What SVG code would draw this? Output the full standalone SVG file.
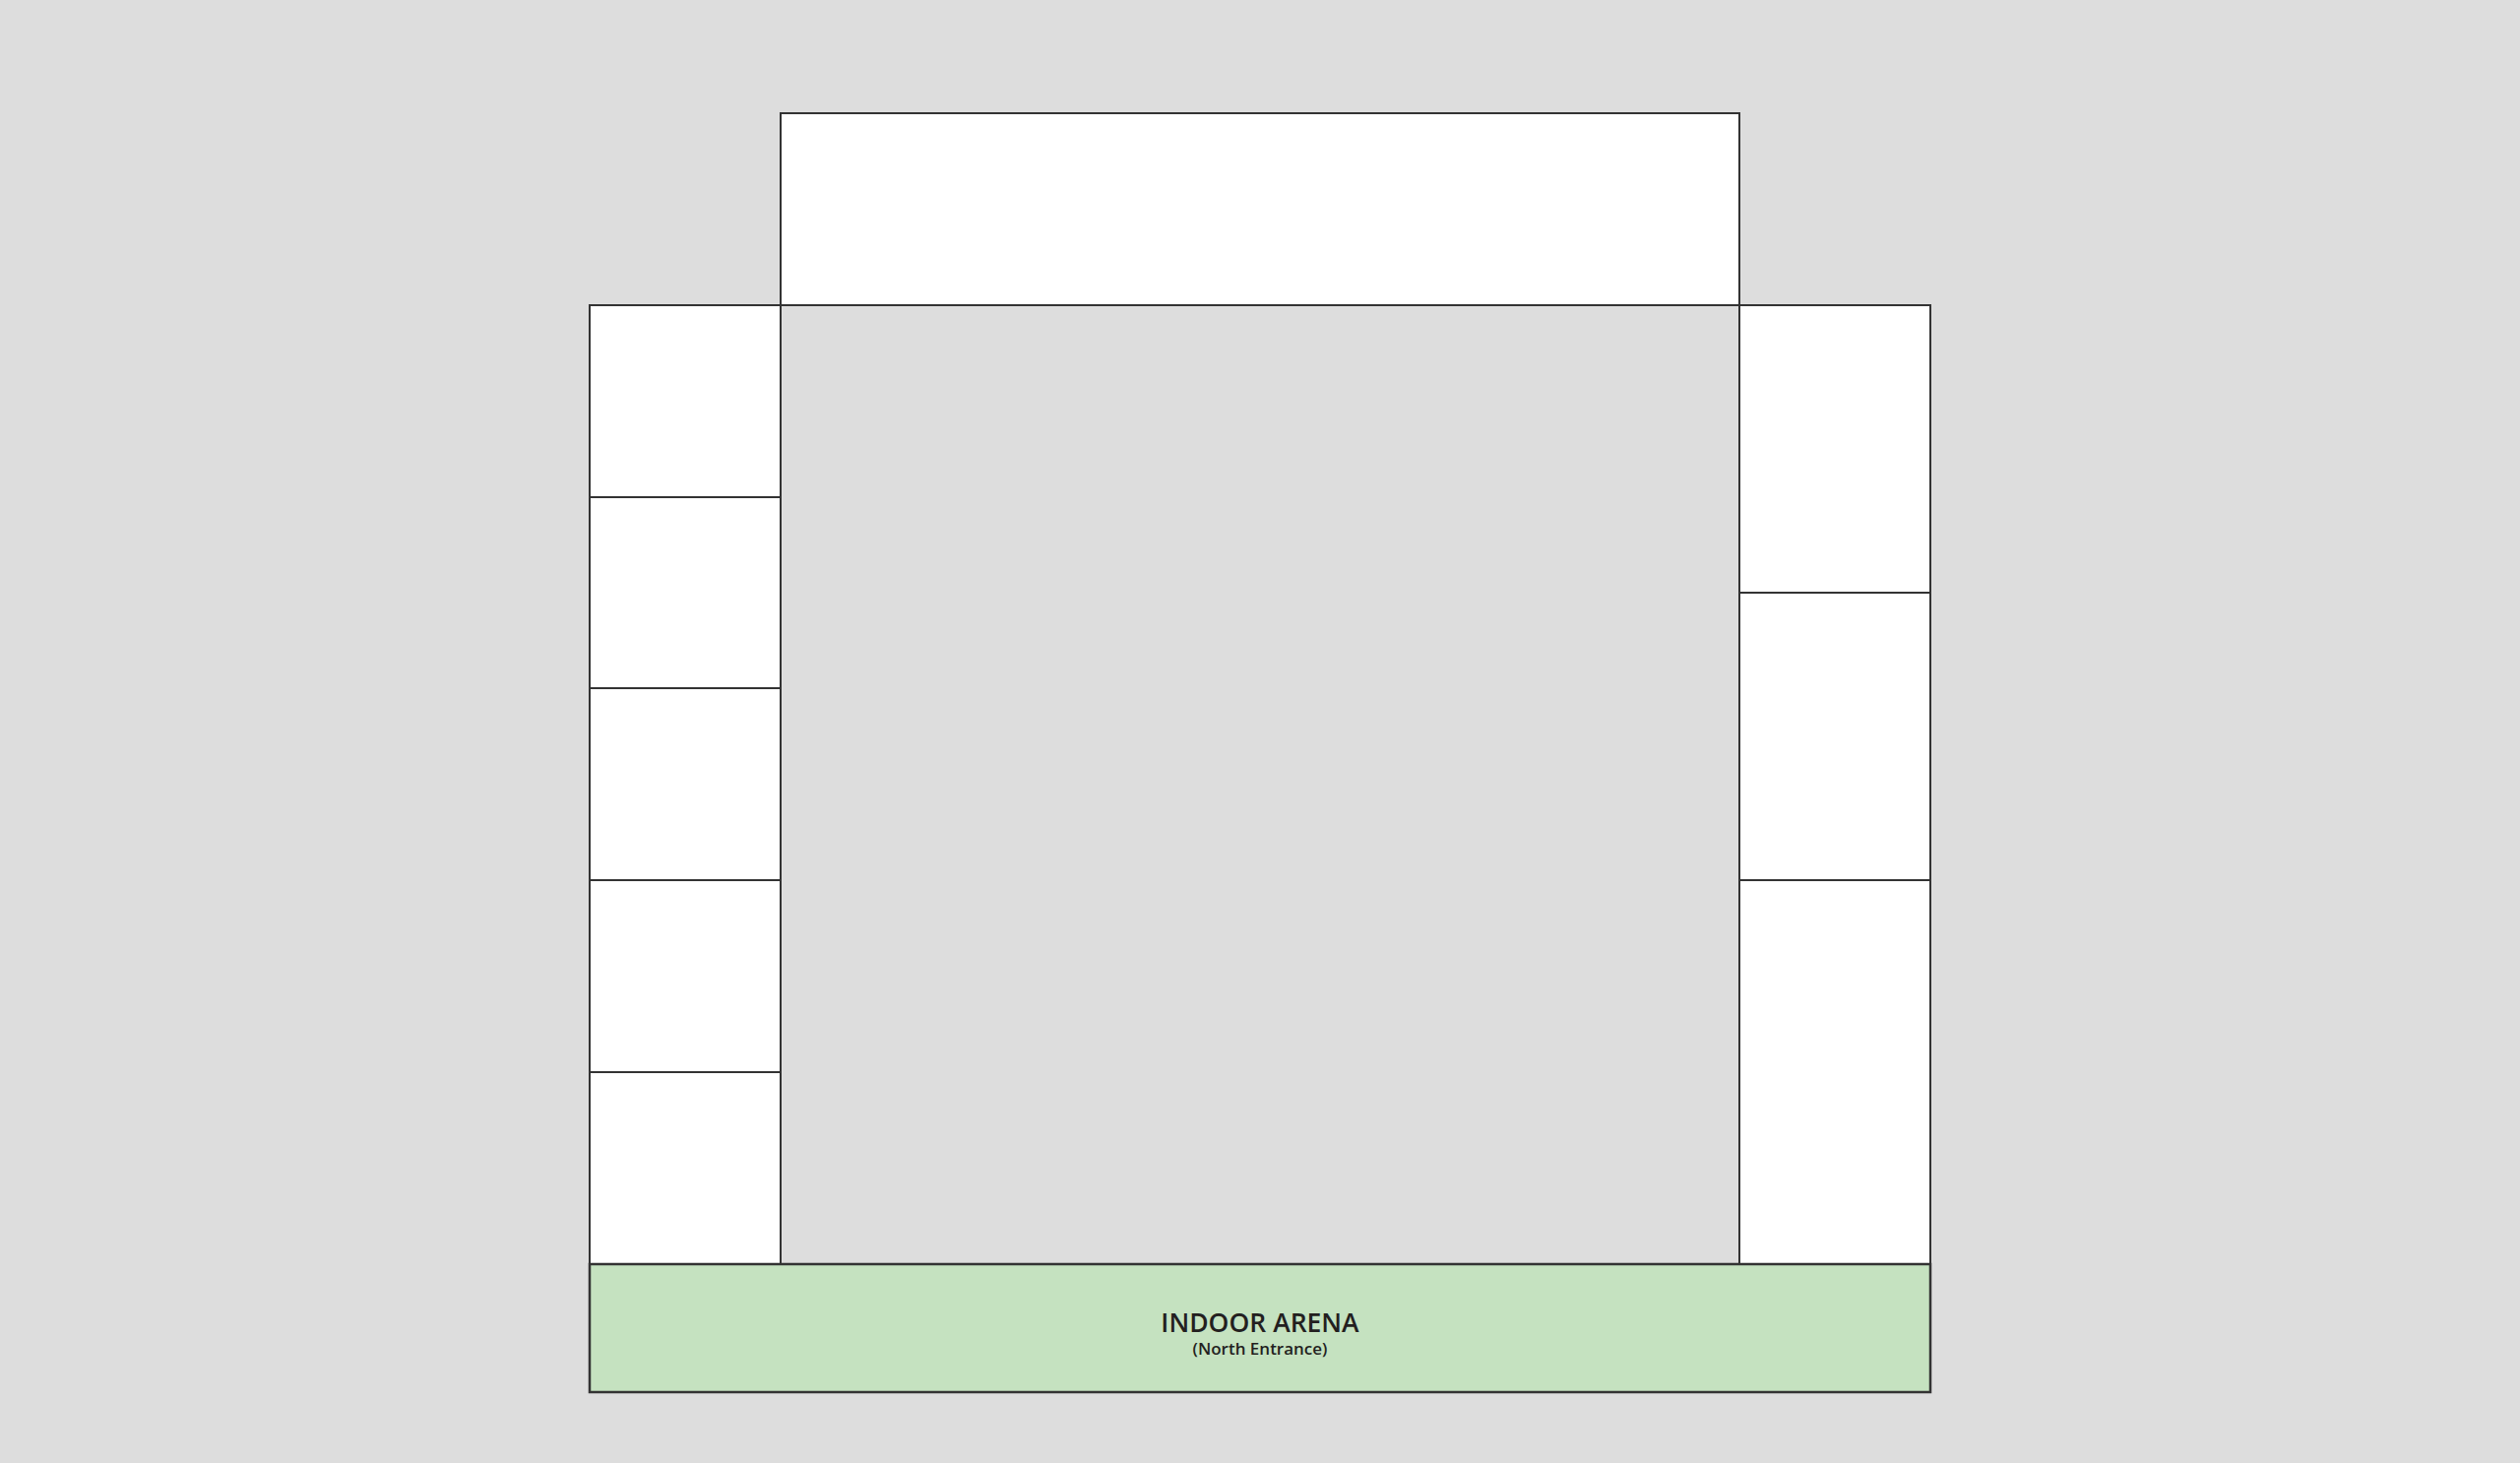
<svg xmlns="http://www.w3.org/2000/svg" width="2560" height="1486" viewBox="0 0 2560 1486">
<style>
.b{fill:#ffffff;stroke:#333333;stroke-width:2}
.c{fill:#dddddd;stroke:#333333;stroke-width:2}
.g{fill:#c5e2c0;stroke:#333333;stroke-width:2.5}
.t{font-family:"Open Sans","Liberation Sans",sans-serif;fill:#231f20;text-anchor:middle}
</style>
<rect x="0" y="0" width="2560" height="1486" fill="#dddddd"/>
<g id="top"><rect class="b" x="793" y="115" width="974" height="195"/></g>
<g id="center"><rect class="c" x="793" y="310" width="974" height="974"/></g>
<g id="left1"><rect class="b" x="599" y="310" width="194" height="195"/></g>
<g id="left2"><rect class="b" x="599" y="505" width="194" height="194"/></g>
<g id="left3"><rect class="b" x="599" y="699" width="194" height="195"/></g>
<g id="left4"><rect class="b" x="599" y="894" width="194" height="195"/></g>
<g id="left5"><rect class="b" x="599" y="1089" width="194" height="195"/></g>
<g id="right1"><rect class="b" x="1767" y="310" width="194" height="292"/></g>
<g id="right2"><rect class="b" x="1767" y="602" width="194" height="292"/></g>
<g id="right3"><rect class="b" x="1767" y="894" width="194" height="390"/></g>
<g id="arena">
<rect class="g" x="599" y="1284" width="1362" height="130"/>
<text class="t" x="1280" y="1353" font-size="26.5" font-weight="600">INDOOR ARENA</text>
<text class="t" x="1280" y="1376" font-size="17" font-weight="600">(North Entrance)</text>
</g>
<g id="connectors"></g>
</svg>
